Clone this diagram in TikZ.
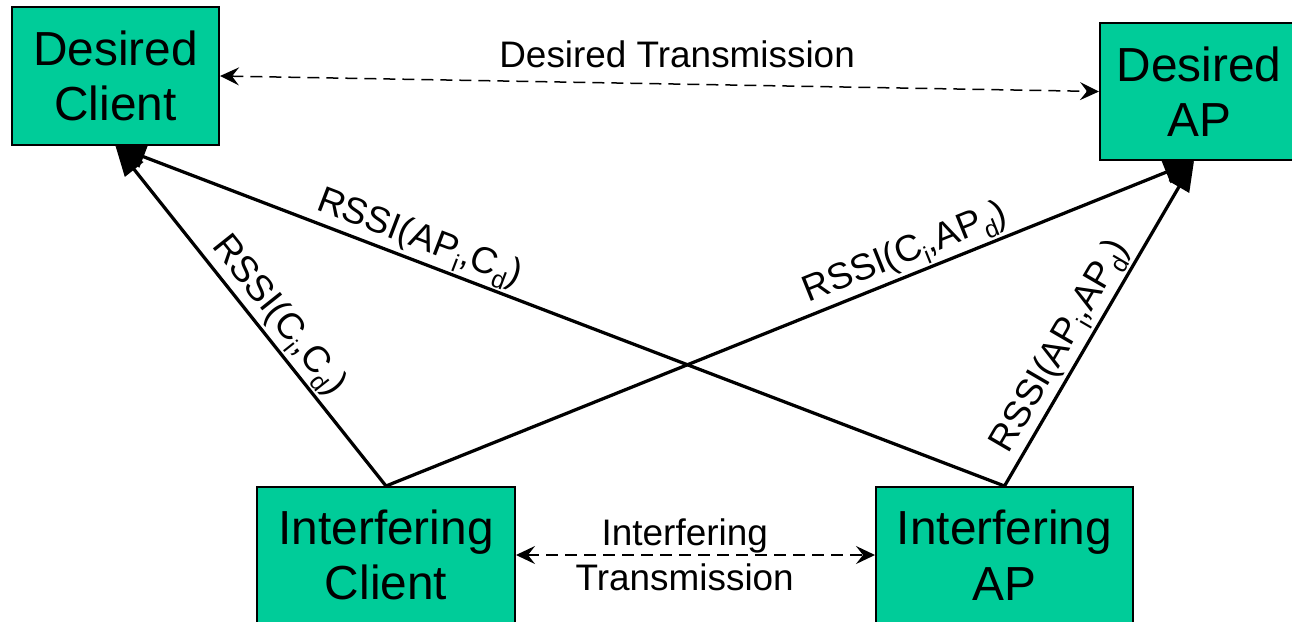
\documentclass[tikz,border=0pt]{standalone}
\usepackage{fontspec}
\setmainfont{Liberation Sans}
\usetikzlibrary{arrows.meta}
\definecolor{boxgreen}{RGB}{0,204,153}
\newcommand\lowsub[1]{\raisebox{-0.45ex}{\fontsize{14}{14}\selectfont #1}}

\begin{document}
\begin{tikzpicture}[x=0.2mm,y=-0.2mm,
  station/.style={draw=black,line width=0.04cm,fill=boxgreen,align=center,inner sep=0pt,
    font=\fontsize{27.2}{31.5}\selectfont},
  lbl/.style={font=\fontsize{21}{25.6}\selectfont,inner sep=1pt,align=center},
  rssi/.style={line width=0.065cm,-{Triangle[length=0.6cm,width=0.46cm]}},
  traffic/.style={line width=0.03cm,dash pattern=on 0.24cm off 0.14cm,
    {Stealth[length=0.38cm,width=0.36cm,inset=0.14cm]}-{Stealth[length=0.38cm,width=0.36cm,inset=0.14cm]}}]
\useasboundingbox (0,0) rectangle (1292,621);

% stations
\node[station,minimum width=4.14cm,minimum height=2.76cm] (dc) at (115.5,76) {Desired\\Client};
\node[station,minimum width=3.96cm,minimum height=2.74cm] (dap) at (1199,91.5) {Desired\\AP};
\node[station,minimum width=5.16cm,minimum height=2.72cm] (ic) at (386,555) {Interfering\\Client};
\node[station,minimum width=5.14cm,minimum height=2.72cm] (iap) at (1004.5,555) {Interfering\\AP};
\coordinate (dapin) at (1194,161);

% transmissions
\draw[traffic] (dc.east) -- node[lbl,above=8pt,pos=0.52] (dtx) {Desired Transmission} (dap.west);
\draw[traffic] (ic.east) -- node[lbl,pos=0.47] (itx) {Interfering\\Transmission} (iap.west);

% rssi links
\draw[rssi] (ic.north) -- node[lbl,sloped,above,pos=0.46] (cc) {RSSI(C\lowsub{i},C\lowsub{d})} (dc.south);
\draw[rssi] (iap.north) -- node[lbl,sloped,above,pos=0.667] (ac) {RSSI(AP\lowsub{i},C\lowsub{d})} (dc.south);
\draw[rssi] (ic.north) -- node[lbl,sloped,above,pos=0.653] (ca) {RSSI(C\lowsub{i},AP\lowsub{d})} (dapin);
\draw[rssi] (iap.north) -- node[lbl,sloped,above,pos=0.396] (aa) {RSSI(AP\lowsub{i},AP\lowsub{d})} (dapin);
\end{tikzpicture}
\end{document}
